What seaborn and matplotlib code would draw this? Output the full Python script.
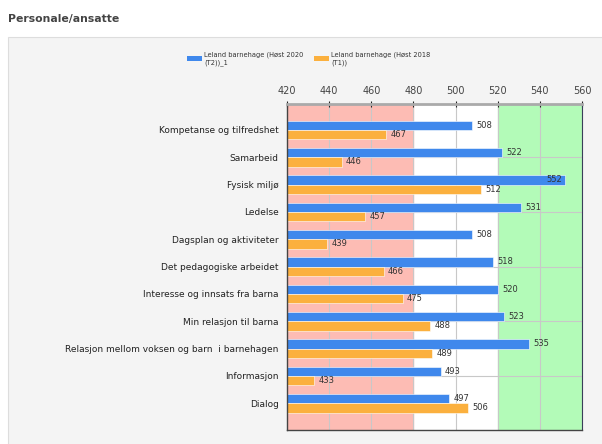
import matplotlib
matplotlib.use("Agg")
import matplotlib.pyplot as plt
import matplotlib.patches as mpatches
from matplotlib.ticker import NullLocator
import pandas as pd
import seaborn as sns

categories = [
    "Kompetanse og tilfredshet", "Samarbeid", "Fysisk miljø", "Ledelse",
    "Dagsplan og aktiviteter", "Det pedagogiske arbeidet",
    "Interesse og innsats fra barna", "Min relasjon til barna",
    "Relasjon mellom voksen og barn  i barnehagen", "Informasjon", "Dialog",
]
series_names = ["Leland barnehage (Høst 2020\n(T2))_1", "Leland barnehage (Høst 2018\n(T1))"]
values_2020 = [508, 522, 552, 531, 508, 518, 520, 523, 535, 493, 497]
values_2018 = [467, 446, 512, 457, 439, 466, 475, 488, 489, 433, 506]
colors = ["#3f88ec", "#fbb03e"]
x_ticks = [420, 440, 460, 480, 500, 520, 540, 560]

df = pd.DataFrame({
    "kategori": categories * 2,
    "verdi": values_2020 + values_2018,
    "serie": [series_names[0]] * len(categories) + [series_names[1]] * len(categories),
})

sns.set_style("white")
plt.rcParams["font.family"] = ["DejaVu Sans"]

fig = plt.figure(figsize=(6.02, 4.44), dpi=100)
fig.patch.set_facecolor("white")
fig.patches.append(mpatches.Rectangle((0.013, -0.01), 1.0, 0.927, transform=fig.transFigure,
                                      facecolor="#f4f4f4", edgecolor="#dddddd", lw=0.8, zorder=-10))
fig.text(0.013, 0.958, "Personale/ansatte", fontsize=7.8, fontweight="bold", color="#444444", va="center")

ax = fig.add_axes([0.4767, 0.0315, 0.4900, 0.7342])
ax.set_facecolor("white")
ax.axvspan(420, 480, color="#fdbcb4", zorder=0)
ax.axvspan(520, 560, color="#b3fbb8", zorder=0)

sns.barplot(data=df, x="verdi", y="kategori", hue="serie", palette=colors, orient="h",
            width=0.68, ax=ax, edgecolor="white", linewidth=0.4, saturation=1, zorder=3)

ax.set_xlim(420, 560)
ax.set_ylim(10.98, -0.95)
ax.set_xticks(x_ticks)
ax.xaxis.tick_top()
ax.tick_params(axis="x", labelsize=7, colors="#222222", labelcolor="#444444",
               direction="inout", length=5, pad=3)
ax.grid(axis="x", color="#c8c8c8", lw=0.8, zorder=1)
ax.set_xlabel("")
ax.set_ylabel("")
ax.yaxis.set_minor_locator(NullLocator())
ax.tick_params(axis="y", which="major", length=4, color="#333333", direction="out",
               labelsize=6.5, pad=2, labelcolor="#222222")
ax.grid(axis="y", which="major", color="#c8c8c8", lw=0.8, zorder=1)
for i, tick in enumerate(ax.yaxis.get_major_ticks()):
    if i % 2 == 0:
        tick.tick1line.set_visible(False)
        tick.gridline.set_visible(False)
ax.set_axisbelow(True)

for side in ["left", "bottom"]:
    ax.spines[side].set_color("#444444")
    ax.spines[side].set_linewidth(1.0)
ax.spines["top"].set_color("#aaaaaa")
ax.spines["top"].set_linewidth(2)
ax.spines["right"].set_color("#3a3f5a")
ax.spines["right"].set_linewidth(0.8)
for sp in ax.spines.values():
    sp.set_zorder(6)

for container, vals in zip(ax.containers, [values_2020, values_2018]):
    for bar, v in zip(container, vals):
        y = bar.get_y() + bar.get_height() / 2
        if v > 545:
            ax.text(v - 1.2, y, str(v), ha="right", va="center", fontsize=6, color="#333333", zorder=5)
        else:
            ax.text(v + 2, y, str(v), ha="left", va="center", fontsize=6, color="#333333", zorder=5)

handles = [mpatches.Patch(facecolor=c, edgecolor="none") for c in colors]
ax.legend_.remove()
fig.legend(handles, series_names, loc="upper left", bbox_to_anchor=(0.3106, 0.884), ncol=2,
           frameon=False, fontsize=4.8, handlelength=2.25, handleheight=0.75, columnspacing=1.6,
           handletextpad=0.3, borderpad=0, borderaxespad=0, labelcolor="#333333")

fig.savefig("out.png", dpi=100, facecolor="white")
